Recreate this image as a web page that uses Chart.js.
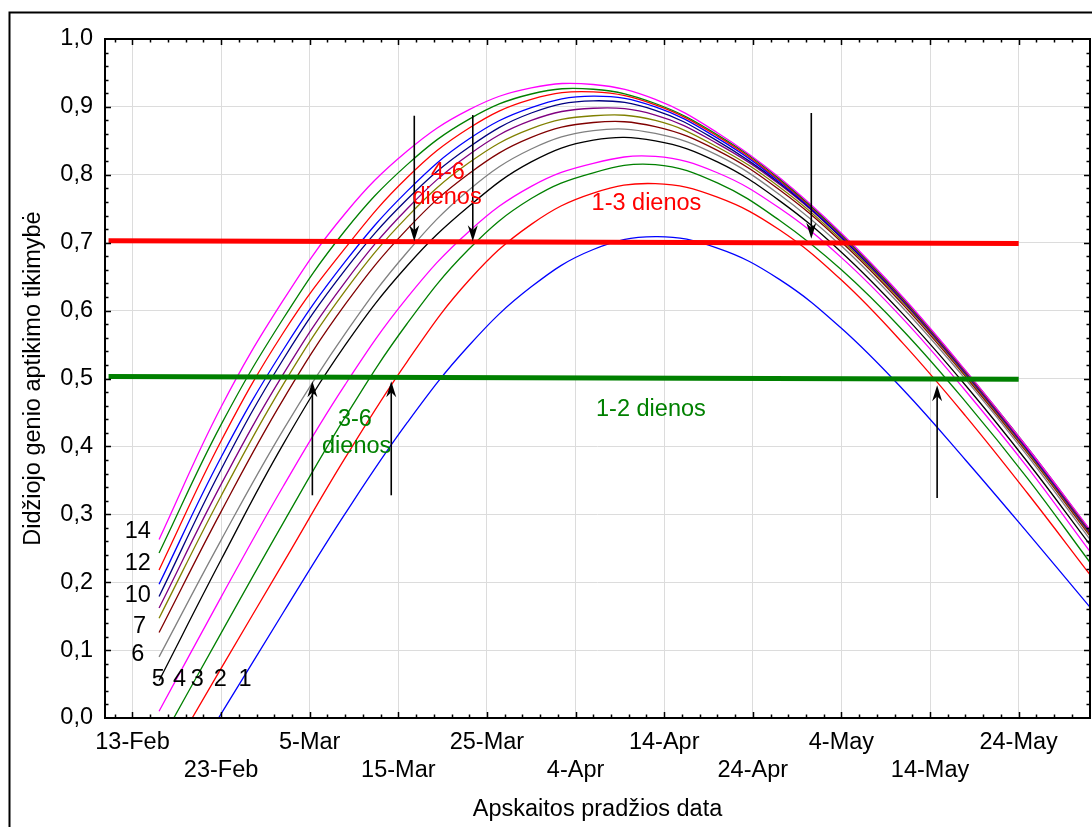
<!DOCTYPE html>
<html>
<head>
<meta charset="utf-8">
<script src="https://cdn.jsdelivr.net/npm/chart.js@4.4.1/dist/chart.umd.min.js"></script>
<style>
  html, body { margin: 0; padding: 0; background: #fff; }
  canvas { display: block; }
</style>
</head>
<body>
<canvas id="chart" width="1092" height="827"></canvas>
<script>
// x values are days after 13-Feb
const sampleDays = [3, 10, 17, 24, 31, 38, 45, 52, 59, 66, 73, 80, 87, 94, 101, 108];

const curve1  = [-0.141, 0.006, 0.155, 0.301, 0.435, 0.549, 0.635, 0.690, 0.709, 0.692, 0.646, 0.574, 0.483, 0.380, 0.273, 0.164];
const curve2  = [-0.084, 0.073, 0.228, 0.383, 0.525, 0.645, 0.727, 0.773, 0.787, 0.767, 0.719, 0.645, 0.551, 0.445, 0.331, 0.212];
const curve3  = [-0.039, 0.125, 0.287, 0.443, 0.581, 0.691, 0.765, 0.803, 0.815, 0.788, 0.733, 0.660, 0.570, 0.466, 0.353, 0.230];
const curve4  = [0.010, 0.178, 0.341, 0.491, 0.619, 0.717, 0.783, 0.817, 0.827, 0.803, 0.751, 0.678, 0.587, 0.482, 0.369, 0.246];
const curve5  = [0.055, 0.233, 0.403, 0.549, 0.666, 0.754, 0.819, 0.851, 0.850, 0.819, 0.762, 0.686, 0.594, 0.490, 0.377, 0.256];
const curve6  = [0.090, 0.262, 0.424, 0.566, 0.686, 0.778, 0.838, 0.865, 0.861, 0.829, 0.771, 0.695, 0.603, 0.499, 0.386, 0.264];
const curve7  = [0.126, 0.304, 0.469, 0.609, 0.720, 0.802, 0.855, 0.877, 0.871, 0.836, 0.778, 0.701, 0.608, 0.503, 0.390, 0.269];
const curve8  = [0.147, 0.327, 0.491, 0.629, 0.738, 0.818, 0.868, 0.887, 0.880, 0.841, 0.782, 0.704, 0.611, 0.505, 0.392, 0.271];
const curve9  = [0.162, 0.344, 0.506, 0.642, 0.750, 0.830, 0.880, 0.898, 0.888, 0.846, 0.786, 0.707, 0.613, 0.507, 0.394, 0.273];
const curve10 = [0.179, 0.366, 0.528, 0.660, 0.764, 0.841, 0.891, 0.909, 0.895, 0.850, 0.788, 0.708, 0.614, 0.508, 0.395, 0.274];
const curve11 = [0.197, 0.384, 0.542, 0.672, 0.776, 0.853, 0.899, 0.916, 0.900, 0.854, 0.790, 0.709, 0.615, 0.509, 0.396, 0.275];
const curve12 = [0.218, 0.408, 0.567, 0.692, 0.796, 0.869, 0.911, 0.922, 0.903, 0.857, 0.792, 0.711, 0.616, 0.510, 0.397, 0.276];
const curve13 = [0.243, 0.432, 0.588, 0.718, 0.815, 0.882, 0.919, 0.926, 0.905, 0.859, 0.794, 0.712, 0.617, 0.511, 0.398, 0.277];
const curve14 = [0.263, 0.458, 0.615, 0.743, 0.835, 0.896, 0.928, 0.933, 0.911, 0.862, 0.796, 0.714, 0.619, 0.512, 0.398, 0.278];

const curveColors = ['#0000ff', '#ff0000', '#008000', '#ff00ff', '#000000', '#808080', '#800000',
                     '#808000', '#800080', '#000080', '#0000ff', '#ff0000', '#008000', '#ff00ff'];

// horizontal threshold lines
const thresholdDays = [-2.7, 100];
const threshold07 = [0.703, 0.699];
const threshold05 = [0.503, 0.499];

// axis ticks
const tickDays = [0, 10, 20, 30, 40, 50, 60, 70, 80, 90, 100];
const tickLabels = ['13-Feb', '23-Feb', '5-Mar', '15-Mar', '25-Mar', '4-Apr', '14-Apr', '24-Apr', '4-May', '14-May', '24-May'];

// arrows: day, start value, tip value
const arrowDays = [31.8, 38.4, 76.6, 20.3, 29.2, 90.8];
const arrowFrom = [0.887, 0.888, 0.891, 0.328, 0.328, 0.324];
const arrowTo   = [0.702, 0.702, 0.706, 0.496, 0.496, 0.490];

// text notes
const noteText   = ['4-6', 'dienos', '1-3 dienos', '3-6', 'dienos', '1-2 dienos'];
const noteDays   = [35.6, 35.5, 58.0, 25.1, 25.3, 58.5];
const noteValues = [0.804, 0.767, 0.758, 0.439, 0.400, 0.454];
const noteColors = ['#ff0000', '#ff0000', '#ff0000', '#008000', '#008000', '#008000'];

// curve number labels
const curveLabelText   = ['14', '12', '10', '7', '6', '5', '4', '3', '2', '1'];
const curveLabelDays   = [0.6, 0.6, 0.6, 0.8, 0.6, 2.9, 5.3, 7.3, 9.9, 12.7];
const curveLabelValues = [0.274, 0.228, 0.181, 0.134, 0.093, 0.056, 0.056, 0.056, 0.056, 0.056];

const FONT = '"Liberation Sans", Arial, sans-serif';
const FS = 23.5;
Chart.defaults.font.family = FONT;
Chart.defaults.color = '#000';

const curves = [curve1, curve2, curve3, curve4, curve5, curve6, curve7, curve8, curve9, curve10, curve11, curve12, curve13, curve14];
const toPoints = (xs, ys) => xs.map((x, i) => ({ x: x, y: ys[i] }));

const datasets = [
  { data: toPoints(thresholdDays, threshold07), borderColor: '#ff0000', borderWidth: 5, tension: 0 },
  { data: toPoints(thresholdDays, threshold05), borderColor: '#008000', borderWidth: 5, tension: 0 },
];
for (let i = curves.length - 1; i >= 0; i--) {
  datasets.push({ data: toPoints(sampleDays, curves[i]), borderColor: curveColors[i], borderWidth: 1.3 });
}

function arrowHead(ctx, x, y, dir) {
  // dir = 1 pointing down, -1 pointing up
  ctx.beginPath();
  ctx.moveTo(x, y);
  ctx.lineTo(x - 5, y - dir * 16);
  ctx.lineTo(x, y - dir * 11);
  ctx.lineTo(x + 5, y - dir * 16);
  ctx.closePath();
  ctx.fill();
}

const decorations = {
  id: 'decorations',
  beforeDraw(chart) {
    const ctx = chart.ctx;
    ctx.save();
    ctx.fillStyle = '#fff';
    ctx.fillRect(0, 0, chart.width, chart.height);
    ctx.strokeStyle = '#000';
    ctx.lineWidth = 2;
    ctx.beginPath();
    ctx.moveTo(9.5, 900);
    ctx.lineTo(9.5, 12.5);
    ctx.lineTo(1200, 12.5);
    ctx.stroke();
    ctx.restore();
  },
  afterDatasetsDraw(chart) {
    const ctx = chart.ctx;
    const a = chart.chartArea;
    const xs = chart.scales.x, ys = chart.scales.y;
    ctx.save();

    // minor / major tick marks on all four sides
    ctx.strokeStyle = '#000';
    ctx.lineWidth = 1.5;
    ctx.beginPath();
    for (let d = -2; d <= 108; d += 2) {
      const px = Math.round(xs.getPixelForValue(d)) + 0.5;
      if (px <= a.left + 1 || px >= a.right - 1) continue;
      const len = d % 10 === 0 ? 6 : 3.5;
      ctx.moveTo(px, a.bottom); ctx.lineTo(px, a.bottom - len);
      ctx.moveTo(px, a.top); ctx.lineTo(px, a.top + len);
    }
    for (let k = 1; k < 50; k++) {
      const py = Math.round(ys.getPixelForValue(k * 0.02)) + 0.5;
      const len = k % 5 === 0 ? 6 : 3.5;
      ctx.moveTo(a.left, py); ctx.lineTo(a.left + len, py);
      ctx.moveTo(a.right, py); ctx.lineTo(a.right - len, py);
    }
    ctx.stroke();

    // plot frame
    ctx.lineWidth = 2;
    ctx.strokeRect(a.left, a.top, a.right - a.left, a.bottom - a.top);

    // arrows
    ctx.fillStyle = '#000';
    ctx.lineWidth = 1.6;
    arrowDays.forEach((d, i) => {
      const px = xs.getPixelForValue(d);
      const y0 = ys.getPixelForValue(arrowFrom[i]);
      const y1 = ys.getPixelForValue(arrowTo[i]);
      const dir = y1 > y0 ? 1 : -1;
      ctx.beginPath();
      ctx.moveTo(px, y0);
      ctx.lineTo(px, y1 - dir * 9);
      ctx.stroke();
      arrowHead(ctx, px, y1, dir);
    });

    // notes
    ctx.font = FS + 'px ' + FONT;
    ctx.textAlign = 'center';
    ctx.textBaseline = 'middle';
    noteText.forEach((t, i) => {
      ctx.fillStyle = noteColors[i];
      ctx.fillText(t, xs.getPixelForValue(noteDays[i]), ys.getPixelForValue(noteValues[i]));
    });
    ctx.fillStyle = '#000';
    curveLabelText.forEach((t, i) => {
      ctx.fillText(t, xs.getPixelForValue(curveLabelDays[i]), ys.getPixelForValue(curveLabelValues[i]));
    });
    ctx.restore();
  }
};

new Chart(document.getElementById('chart'), {
  type: 'line',
  data: { datasets },
  options: {
    responsive: false,
    animation: false,
    layout: { padding: { left: 0, top: 39, right: 2, bottom: 0 } },
    plugins: { legend: { display: false }, tooltip: { enabled: false } },
    elements: { point: { radius: 0 }, line: { tension: 0.4 } },
    scales: {
      x: {
        type: 'linear',
        min: -3.1,
        max: 108.05,
        afterBuildTicks: (s) => { s.ticks = tickDays.map((v) => ({ value: v })); },
        afterFit: (s) => { s.height = 109; },
        grid: { color: '#dcdcdc', drawTicks: false },
        border: { display: false },
        ticks: {
          autoSkip: false, maxRotation: 0, minRotation: 0, padding: 11,
          font: { size: FS, lineHeight: 1.18 },
          callback: (v) => {
            const i = tickDays.indexOf(v);
            return i % 2 ? ['', tickLabels[i]] : tickLabels[i];
          },
        },
        title: { display: true, text: 'Apskaitos pradžios data', font: { size: FS }, padding: { top: 0, bottom: 3 } },
      },
      y: {
        min: 0,
        max: 1,
        afterFit: (s) => { s.width = 105; },
        grid: { color: '#dcdcdc', drawTicks: false },
        border: { display: false },
        ticks: {
          stepSize: 0.1, padding: 12,
          font: { size: FS },
          callback: (v) => v.toFixed(1).replace('.', ','),
        },
        title: { display: true, text: 'Didžiojo genio aptikimo tikimybė', font: { size: FS }, padding: { top: 19, bottom: 0 } },
      },
    },
  },
  plugins: [decorations],
});
</script>
</body>
</html>
